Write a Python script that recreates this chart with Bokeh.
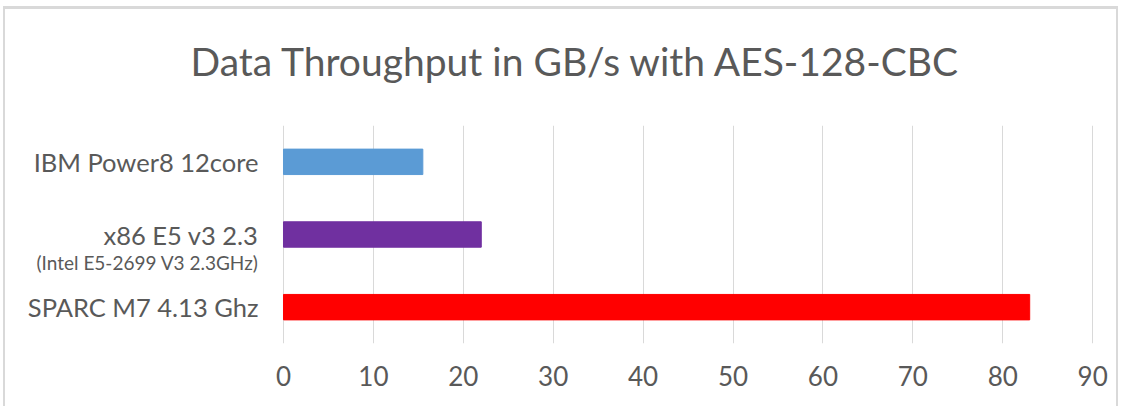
from bokeh.plotting import figure
from bokeh.models import ColumnDataSource, FactorRange, Range1d, FixedTicker, Title
from bokeh.core.properties import value
from bokeh.embed import file_html
from bokeh.resources import INLINE

# ---- data ----
categories = ["IBM Power8 12core", "x86 E5 v3 2.3", "SPARC M7 4.13 Ghz"]
sublabels = ["", "(Intel E5-2699 V3 2.3GHz)", ""]
throughput = [15.5, 22.0, 83.0]
colors = ["#5B9BD5", "#7030A0", "#FF0000"]
x_ticks = [0, 10, 20, 30, 40, 50, 60, 70, 80, 90]
title_text = "Data Throughput in GB/s with AES-128-CBC"

FONT = "Lato"
TXT = "#595959"

src = ColumnDataSource(dict(cat=categories, sub=sublabels, val=throughput, color=colors))

p = figure(
    width=1115, height=400, title=None,
    y_range=FactorRange(factors=categories[::-1], range_padding=0),
    x_range=Range1d(-30.92, 93.10),
    output_backend="svg", toolbar_location=None,
    min_border_left=0, min_border_right=0, min_border_top=116, min_border_bottom=66,
    y_axis_location=None,
)
p.styles = {
    "margin-left": "3px",
    "margin-top": "6px",
    "border-top": "3px solid #d9d9d9",
    "border-left": "2px solid #d9d9d9",
    "border-right": "2px solid #d9d9d9",
}
p.outline_line_color = None

# spacer between title and plot area, then the title itself
p.add_layout(Title(text=" ", text_font_size="22px"), "above")
p.add_layout(Title(text=title_text, align="left", offset=185, text_font=FONT,
                   text_font_size="39px", text_font_style="normal", text_color=TXT), "above")

p.hbar(y="cat", left=0, right="val", height=0.35, color="color", source=src)

p.text(x=0, y="cat", text="cat", source=src, x_offset=-25, text_align="right",
       text_baseline="middle", text_font=value(FONT), text_font_size="25.5px", text_color=TXT)
p.text(x=0, y="cat", text="sub", source=src, x_offset=-25, y_offset=28, text_align="right",
       text_baseline="middle", text_font=value(FONT), text_font_size="19px", text_color=TXT)

p.xaxis.ticker = FixedTicker(ticks=x_ticks)
p.xaxis.axis_line_color = None
p.xaxis.major_tick_line_color = None
p.xaxis.minor_tick_line_color = None
p.xaxis.major_label_text_font = FONT
p.xaxis.major_label_text_font_size = "26px"
p.xaxis.major_label_text_color = TXT
p.xaxis.major_label_standoff = 16

p.xgrid.ticker = FixedTicker(ticks=x_ticks)
p.xgrid.grid_line_color = "#d9d9d9"
p.ygrid.visible = False

open("out.html", "w").write(file_html(p, INLINE))
